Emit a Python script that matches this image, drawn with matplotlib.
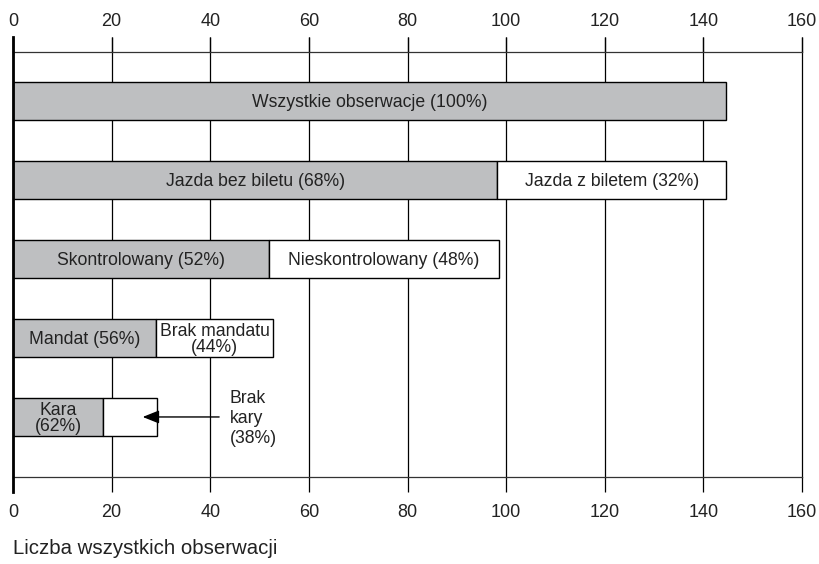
import matplotlib
matplotlib.use("Agg")
import matplotlib.pyplot as plt

plt.rcParams['font.family'] = ['Liberation Sans', 'DejaVu Sans']

# Data
rows = [0, 1, 2, 3, 4]
first_vals = [144.6, 98.2, 51.9, 29.0, 18.3]
totals = [144.6, 144.6, 98.5, 52.7, 29.3]
first_labels = ["Wszystkie obserwacje (100%)", "Jazda bez biletu (68%)",
                "Skontrolowany (52%)", "Mandat (56%)", "Kara\n(62%)"]
second_labels = [None, "Jazda z biletem (32%)", "Nieskontrolowany (48%)",
                 "Brak mandatu\n(44%)", None]
annot_label = "Brak\nkary\n(38%)"
annot_text_x = 44.0
annot_arrow_tip = 26.3
annot_line_start = 41.8
xticks = [0, 20, 40, 60, 80, 100, 120, 140, 160]
xlabel = "Liczba wszystkich obserwacji"

gray = "#bebfc1"
txt = "#222222"

fig = plt.figure(figsize=(8.19, 5.64), dpi=100)
ax = fig.add_axes([13/819, 1-477/564, (802-13)/819, (477-52)/564])

h = 0.47
for r, f, t in zip(rows, first_vals, totals):
    ax.barh(r, f, height=h, left=0, color=gray, edgecolor="black", linewidth=1.0, zorder=3)
    if t - f > 0.01:
        ax.barh(r, t - f, height=h, left=f, color="white", edgecolor="black", linewidth=1.0, zorder=3)

fs = 12.7
for r, f, t, l1, l2 in zip(rows, first_vals, totals, first_labels, second_labels):
    ax.text(f/2, r + 0.02, l1, ha="center", va="center", fontsize=fs, color=txt,
            zorder=5, linespacing=0.88)
    if l2:
        ax.text((f+t)/2, r + 0.02, l2, ha="center", va="center", fontsize=fs, color=txt,
                zorder=5, linespacing=0.88)

# annotation arrow
ax.annotate("", xy=(annot_arrow_tip, 4), xytext=(annot_line_start, 4),
            arrowprops=dict(arrowstyle="-|>,head_length=1.0,head_width=0.4",
                            color="black", lw=1.0, shrinkA=0, shrinkB=0),
            zorder=6)
ax.text(annot_text_x, 4 + 0.02, annot_label, ha="left", va="center", fontsize=fs,
        color=txt, linespacing=1.2, zorder=5)

ax.set_xlim(0, 160)
ax.set_ylim(4.76, -0.62)
ax.set_yticks([])
ax.set_xticks(xticks)
ax.set_xticklabels([str(v) for v in xticks])
ax.tick_params(axis="x", which="both", top=True, labeltop=False, bottom=True,
               labelbottom=True, direction="out", length=11, width=0.9,
               color="black", labelsize=13, labelcolor=txt, pad=8.5)
sec = ax.secondary_xaxis("top")
sec.set_xticks(xticks)
sec.set_xticklabels([str(v) for v in xticks])
sec.tick_params(axis="x", direction="out", length=11, width=0.9, color="black",
                labelsize=13, labelcolor=txt, pad=5)
sec.spines["top"].set_visible(False)

ax.grid(axis="x", color="black", linewidth=0.9, zorder=0)
for gl in ax.get_xgridlines():
    gl.set_clip_on(False)
ax.set_axisbelow(True)

ax.spines["right"].set_visible(False)
ax.spines["left"].set_visible(False)
ax.spines["top"].set_linewidth(0.9)
ax.spines["bottom"].set_linewidth(0.9)
ax.spines["top"].set_color("#333333")
ax.spines["bottom"].set_color("#333333")
# thick left line extending over the tick area
ax.axvline(0, ymin=-0.036, ymax=1.036, color="black", linewidth=2.0, clip_on=False, zorder=4)

fig.text(13/819, 1-549/564, xlabel, ha="left", va="center", fontsize=14.7, color=txt)

fig.savefig("out.png", dpi=100, facecolor="white")
